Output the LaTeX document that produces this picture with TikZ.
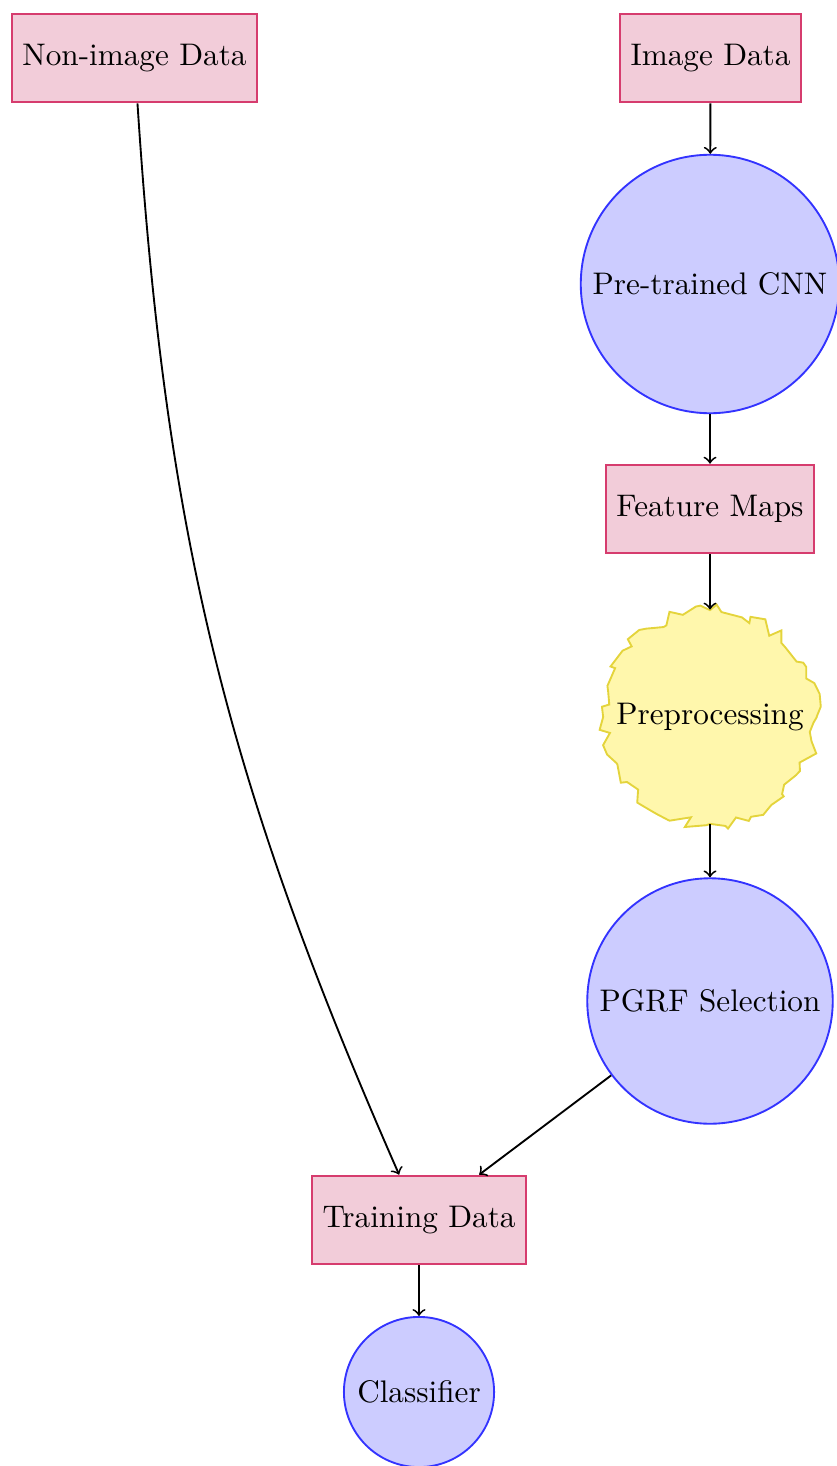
\documentclass[tikz,border=0pt]{standalone}
\usetikzlibrary{decorations.pathmorphing}
\definecolor{boxfill}{RGB}{242,204,217}
\definecolor{boxline}{RGB}{214,60,110}
\definecolor{circfill}{RGB}{204,204,255}
\definecolor{circline}{RGB}{51,51,255}
\definecolor{burstfill}{RGB}{255,247,172}
\definecolor{burstline}{RGB}{228,212,60}
\tikzset{
  databox/.style={rectangle, draw=boxline, fill=boxfill, semithick, minimum height=1cm},
  procnode/.style={circle, draw=circline, fill=circfill, semithick},
  burstnode/.style={circle, draw=burstline, fill=burstfill, semithick,
    decorate, decoration={random steps, segment length=3pt, amplitude=2pt}},
  flow/.style={->, semithick}
}
\begin{document}
\begin{tikzpicture}[x=0.3205pt, y=-0.3205pt]
  \useasboundingbox (0,0) rectangle (837,1466);
  \node[databox] (nonimg) at (134.5,58) {Non-image Data};
  \node[databox] (img) at (710.5,58) {Image Data};
  \node[procnode] (cnn) at (710,284) {Pre-trained CNN};
  \node[databox] (fmap) at (710,509) {Feature Maps};
  \node[burstnode] (pre) at (710,717) {Preprocessing};
  \node[procnode] (pgrf) at (710,1001) {PGRF Selection};
  \node[databox] (train) at (419,1220) {Training Data};
  \node[procnode] (clf) at (419,1392) {Classifier};

  \draw[flow] (img) -- (cnn);
  \draw[flow] (cnn) -- (fmap);
  \draw[flow] (fmap) -- (pre);
  \draw[flow] (pre) -- (pgrf);
  \draw[flow] (pgrf) -- (train);
  \draw[flow] (nonimg) to[bend right=10] (train);
  \draw[flow] (train) -- (clf);
\end{tikzpicture}
\end{document}
